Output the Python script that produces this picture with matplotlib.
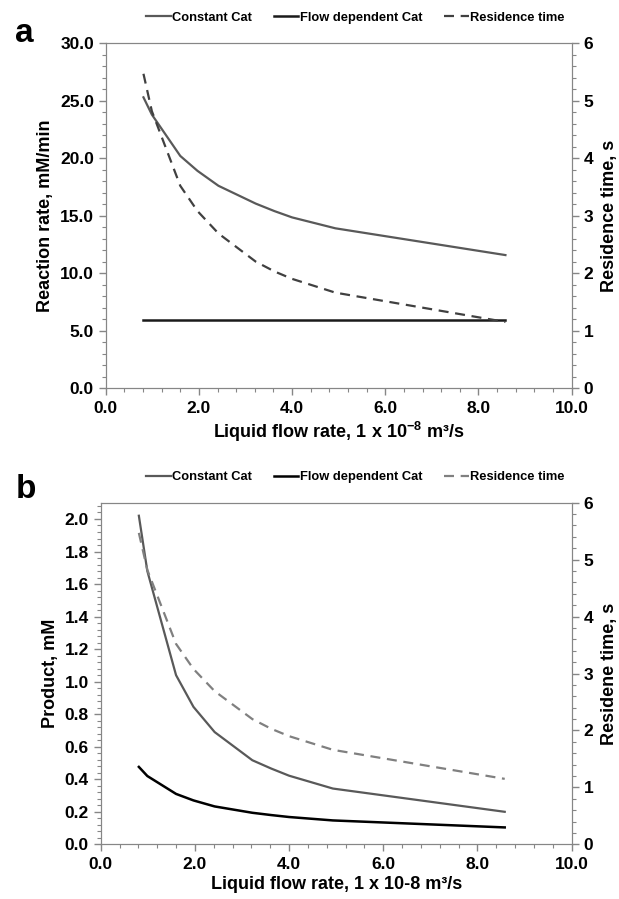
import matplotlib
matplotlib.use('Agg')
from matplotlib import pyplot as plt
from matplotlib.ticker import MultipleLocator, FormatStrFormatter
import numpy as np

plt.rcParams['font.family'] = ['Liberation Sans', 'DejaVu Sans']
plt.rcParams['font.weight'] = 'bold'
plt.rcParams['mathtext.fontset'] = 'custom'
plt.rcParams['mathtext.rm'] = 'Liberation Sans:bold'
plt.rcParams['mathtext.bf'] = 'Liberation Sans:bold'

# data
flow = [0.81, 0.99, 1.60, 1.97, 2.42, 3.22, 3.62, 4.00, 4.93, 8.58]
rate_const = [25.3, 23.8, 20.2, 18.9, 17.6, 16.05, 15.4, 14.85, 13.9, 11.57]
rate_flow = [5.9, 5.9, 5.9, 5.9, 5.9, 5.9, 5.9, 5.9, 5.9, 5.9]
res_time = [5.47, 4.82, 3.52, 3.08, 2.69, 2.20, 2.03, 1.90, 1.66, 1.15]
prod_const = [2.02, 1.68, 1.04, 0.845, 0.69, 0.517, 0.466, 0.422, 0.343, 0.20]
prod_flow = [0.476, 0.42, 0.31, 0.27, 0.233, 0.194, 0.18, 0.168, 0.147, 0.104]

spine_col = '#868686'
tick_fs = 12.5
lab_fs = 13
leg_kw = dict(loc='center', ncol=3, frameon=False, handlelength=1.9, handletextpad=0.1,
              columnspacing=1.7, prop={'weight': 'bold', 'size': 9.3})


def style_axes(ax, ax2):
    for a in (ax, ax2):
        for s in a.spines.values():
            s.set_color(spine_col)
        a.tick_params(which='both', direction='out', color=spine_col, labelsize=tick_fs)
        a.tick_params(which='major', length=5, width=1)
        a.tick_params(which='minor', length=3, width=0.8)
    ax.tick_params(axis='x', pad=4)
    for lab in ax.get_xticklabels() + ax.get_yticklabels() + ax2.get_yticklabels():
        lab.set_fontweight('bold')


fig = plt.figure(figsize=(6.19, 8.99), dpi=100)

# ---- panel a ----
ax = fig.add_axes([0.1708, 0.5684, 0.7526, 0.3834])
ax2 = ax.twinx()
l1, = ax.plot(flow, rate_const, color='#595959', lw=1.6, label='Constant Cat')
l2, = ax.plot(flow, rate_flow, color='#1a1a1a', lw=1.8, label='Flow dependent Cat')
l3, = ax2.plot(flow, res_time, color='#404040', lw=1.6, ls=(0, (4.5, 3)), label='Residence time')
ax.set_xlim(0, 10)
ax.set_ylim(0, 30)
ax2.set_ylim(0, 6)
ax.xaxis.set_major_locator(MultipleLocator(2))
ax.xaxis.set_minor_locator(MultipleLocator(0.4))
ax.yaxis.set_major_locator(MultipleLocator(5))
ax.yaxis.set_minor_locator(MultipleLocator(1))
ax2.yaxis.set_major_locator(MultipleLocator(1))
ax2.yaxis.set_minor_locator(MultipleLocator(0.2))
ax.xaxis.set_major_formatter(FormatStrFormatter('%.1f'))
ax.yaxis.set_major_formatter(FormatStrFormatter('%.1f'))
style_axes(ax, ax2)
ax.set_xlabel('Liquid flow rate, 1 x 10$^{\\mathbf{-8}}$ m\u00b3/s', fontsize=lab_fs, fontweight='bold', labelpad=3)
ax.set_ylabel('Reaction rate, mM/min', fontsize=lab_fs, fontweight='bold', labelpad=4)
ax2.set_ylabel('Residence time, s', fontsize=lab_fs, fontweight='bold', labelpad=6)
fig.legend(handles=[l1, l2, l3], bbox_to_anchor=(0.574, 0.980), **leg_kw)
fig.text(0.025, 0.963, 'a', fontsize=24, fontweight='bold', va='center')

# ---- panel b ----
bx = fig.add_axes([0.1627, 0.0608, 0.7607, 0.3800])
bx2 = bx.twinx()
m1, = bx.plot(flow, prod_const, color='#595959', lw=1.6, label='Constant Cat')
m2, = bx.plot(flow, prod_flow, color='#000000', lw=1.8, label='Flow dependent Cat')
m3, = bx2.plot(flow, res_time, color='#808080', lw=1.6, ls=(0, (4.5, 3)), label='Residence time')
bx.set_xlim(0, 10)
bx.set_ylim(0, 2.1)
bx2.set_ylim(0, 6)
bx.xaxis.set_major_locator(MultipleLocator(2))
bx.xaxis.set_minor_locator(MultipleLocator(0.4))
bx.yaxis.set_major_locator(MultipleLocator(0.2))
bx.yaxis.set_minor_locator(MultipleLocator(0.04))
bx2.yaxis.set_major_locator(MultipleLocator(1))
bx2.yaxis.set_minor_locator(MultipleLocator(0.2))
bx.xaxis.set_major_formatter(FormatStrFormatter('%.1f'))
bx.yaxis.set_major_formatter(FormatStrFormatter('%.1f'))
style_axes(bx, bx2)
bx.set_xlabel('Liquid flow rate, 1 x 10-8 m\u00b3/s', fontsize=lab_fs, fontweight='bold', labelpad=3)
bx.set_ylabel('Product, mM', fontsize=lab_fs, fontweight='bold', labelpad=4)
bx2.set_ylabel('Residene time, s', fontsize=lab_fs, fontweight='bold', labelpad=6)
fig.legend(handles=[m1, m2, m3], bbox_to_anchor=(0.574, 0.469), **leg_kw)
fig.text(0.025, 0.456, 'b', fontsize=24, fontweight='bold', va='center')

fig.savefig('out.png', dpi=100)
